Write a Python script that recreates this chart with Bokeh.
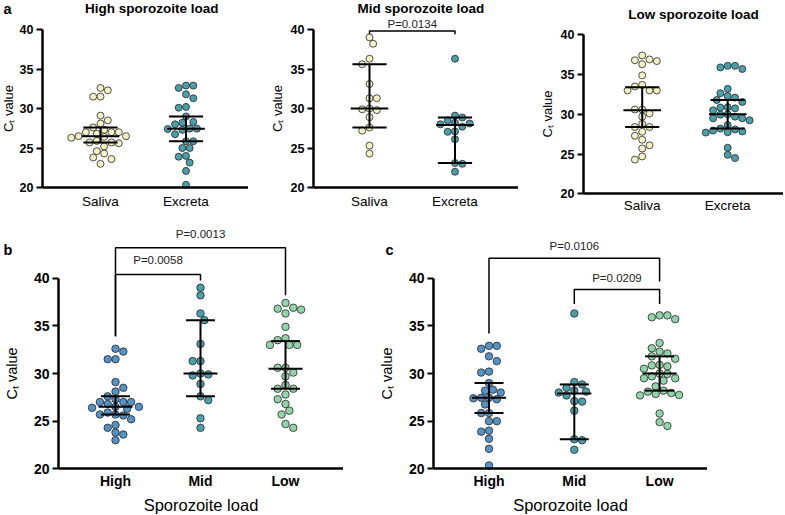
import numpy as np
from bokeh.plotting import figure
from bokeh.models import Range1d, FixedTicker, Label
from bokeh.layouts import column, row
from bokeh.embed import file_html
from bokeh.resources import INLINE

FONT = "Liberation Sans"

# ---------------- data ----------------
cats_a = ["Saliva", "Excreta"]
cats_bc = ["High", "Mid", "Low"]
titles_a = ["High sporozoite load", "Mid sporozoite load", "Low sporozoite load"]

saliva_high = [32.6, 32.3, 31.5, 31.5, 29.1, 28.5, 28.1, 27.6, 27.3, 27.0, 27.0, 27.0, 26.8, 26.5,
               26.5, 26.4, 26.3, 25.9, 25.7, 25.7, 25.6, 25.2, 24.6, 24.3, 23.8, 23.6, 23.0]
saliva_mid = [39.0, 38.2, 36.3, 35.6, 33.1, 31.3, 31.3, 30.0, 29.9, 29.8, 28.9, 27.6, 27.2, 25.3, 24.3]
saliva_low = [37.4, 36.9, 36.8, 36.7, 36.3, 34.9, 33.7, 33.5, 33.0, 33.0, 33.0, 30.6, 30.6, 30.1,
              29.7, 28.8, 28.4, 28.4, 27.8, 27.3, 26.8, 26.1, 25.7, 24.7, 24.3]
excreta_high = [32.9, 32.9, 32.6, 31.8, 31.3, 30.2, 30.1, 29.0, 28.3, 28.2, 28.0, 27.45, 27.45,
                27.4, 27.3, 26.75, 25.85, 25.85, 25.0, 25.0, 24.0, 23.9, 23.15, 22.1, 20.35]
excreta_mid = [36.3, 29.1, 28.85, 28.5, 28.2, 28.1, 28.0, 27.7, 27.1, 27.05, 26.1, 23.1, 23.0, 22.0]
excreta_low = [36.1, 36.1, 35.9, 35.7, 33.2, 32.65, 32.3, 32.1, 31.8, 31.55, 30.9, 30.85, 30.75,
               30.5, 30.0, 29.95, 29.7, 29.5, 29.5, 29.25, 28.65, 28.2, 28.1, 27.95, 27.85, 27.75,
               27.7, 25.8, 24.9, 24.5]

# median and interquartile range (q1, median, q3)
saliva_stats = [(25.7, 26.5, 27.6), (27.6, 30.0, 35.6), (28.4, 30.5, 33.4)]
excreta_stats = [(25.85, 27.45, 29.0), (23.1, 27.9, 28.85), (28.2, 30.0, 31.8)]

# brackets: (from category, to category, bar level, left leg end, right leg end, text, text level)
brackets_a_mid = [(1, 2, 39.8, 39.4, 39.4, "P=0.0134", 40.72)]
brackets_b = [(1, 3, 43.19, 33.9, 38.2, "P=0.0013", 44.66),
              (1, 2, 40.4, 33.9, 39.75, "P=0.0058", 41.9)]
brackets_c = [(1, 3, 42.1, 34.2, 39.65, "P=0.0106", 43.33),
              (2, 3, 38.81, 37.3, 37.3, "P=0.0209", 40.04)]

COL_SALIVA = "#f4f1c4"
COL_EXCRETA = "#4aa0aa"
COL_HIGH = "#5393c5"
COL_MID = "#4aa0aa"
COL_LOW = "#92d4aa"
EDGE = "#262626"


def swarm(vals, ppu_x, ppu_y, d):
    n = len(vals)
    order = sorted(range(n), key=lambda i: -vals[i])
    cands = [0.0]
    for k in range(1, 40):
        cands += [k * 0.5, -k * 0.5]
    placed = []
    offs = [0.0] * n
    flip = False
    for i in order:
        y = vals[i] * ppu_y
        x = 0.0
        cc = 0.0
        for c in cands:
            cc = -c if flip else c
            x = cc * d
            if all((x - xp) ** 2 + (y - yp) ** 2 >= (d * 0.97) ** 2 for xp, yp in placed):
                break
        if cc != 0:
            flip = not flip
        placed.append((x, y))
        offs[i] = x / ppu_x
    return offs


def panel(w, h, ax_px, cat1_px, ppu_x, axis_y_px, ppu_y, cats, cat_size, cat_bold, tick_size,
          ylab_size, ylab_standoff, xlabel=None, xlab_size="16px", cat_standoff=5,
          xlab_standoff=4):
    x0 = 1 - cat1_px / ppu_x
    x1 = x0 + w / ppu_x
    axis_x = x0 + ax_px / ppu_x
    y0 = 20 - (h - axis_y_px) / ppu_y
    y1 = 20 + axis_y_px / ppu_y
    p = figure(width=w, height=h, x_range=Range1d(x0, x1), y_range=Range1d(y0, y1),
               output_backend="svg", toolbar_location=None,
               min_border_left=0, min_border_right=0, min_border_top=0, min_border_bottom=0)
    p.outline_line_color = None
    p.xgrid.visible = False
    p.ygrid.visible = False
    p.background_fill_color = "white"
    p.border_fill_color = "white"
    xa = p.xaxis[0]
    ya = p.yaxis[0]
    xa.fixed_location = 20
    xa.ticker = FixedTicker(ticks=[i + 1 for i in range(len(cats))])
    xa.major_label_overrides = {i + 1: c for i, c in enumerate(cats)}
    xa.bounds = (axis_x, x1)
    xa.major_tick_line_color = None
    xa.minor_tick_line_color = None
    xa.major_tick_out = 0
    xa.major_tick_in = 0
    xa.axis_line_width = 2.5
    xa.axis_line_color = "black"
    xa.major_label_text_font = FONT
    xa.major_label_text_font_size = cat_size
    xa.major_label_text_font_style = "bold" if cat_bold else "normal"
    xa.major_label_text_color = "black"
    xa.major_label_standoff = cat_standoff
    if xlabel:
        xa.axis_label = xlabel
        xa.axis_label_text_font = FONT
        xa.axis_label_text_font_size = xlab_size
        xa.axis_label_text_font_style = "normal"
        xa.axis_label_text_color = "black"
        xa.axis_label_standoff = xlab_standoff
    ya.fixed_location = axis_x
    ya.ticker = FixedTicker(ticks=[20, 25, 30, 35, 40])
    ya.bounds = (20, 40)
    ya.axis_line_width = 2.5
    ya.axis_line_color = "black"
    ya.major_tick_line_width = 2
    ya.major_tick_line_color = "black"
    ya.major_tick_out = 6
    ya.major_tick_in = 0
    ya.minor_tick_line_color = None
    ya.major_label_text_font = FONT
    ya.major_label_text_font_style = "bold"
    ya.major_label_text_font_size = tick_size
    ya.major_label_text_color = "black"
    ya.major_label_standoff = 3
    ya.axis_label = "Cₜ value"
    ya.axis_label_text_font = FONT
    ya.axis_label_text_font_style = "normal"
    ya.axis_label_text_font_size = ylab_size
    ya.axis_label_text_color = "black"
    ya.axis_label_standoff = ylab_standoff
    return p, x0, y1


def draw_group(p, xc, vals, color, size, ppu_x, ppu_y, stats, half_med, half_cap):
    offs = swarm(vals, ppu_x, ppu_y, size + 0.3)
    p.scatter(x=[xc + o for o in offs], y=vals, size=size, fill_color=color,
              line_color=EDGE, line_width=0.8)
    lo, med, hi = stats
    p.segment(x0=[xc, xc - half_med, xc - half_cap, xc - half_cap],
              y0=[lo, med, lo, hi],
              x1=[xc, xc + half_med, xc + half_cap, xc + half_cap],
              y1=[hi, med, lo, hi], line_color="black", line_width=2)


def draw_brackets(p, brackets, size):
    for x1, x2, ytop, yl, yr, text, ytext in brackets:
        p.line(x=[x1, x1, x2, x2], y=[yl, ytop, ytop, yr], line_color="black", line_width=1.5)
        p.add_layout(Label(x=(x1 + x2) / 2, y=ytext, text=text, text_align="center",
                           text_baseline="middle", text_font=FONT, text_font_size=size,
                           text_color="#222222"))


def letter(p, x, y, t, baseline="middle"):
    p.add_layout(Label(x=x, y=y, text=t, text_align="left", text_baseline=baseline,
                       text_font=FONT, text_font_size="14.5px", text_font_style="bold",
                       text_color="black"))


# ---------------- top row (panel a) ----------------
PPU_X_A = 85.5
H1 = 218
top_specs = [
    # canvas width, axis px, first category px, x-axis px from top, px per y unit, ylabel standoff, label standoff
    (248, 42, 100, 187, 7.9, 1, 6),
    (270, 65, 121, 187, 7.9, 3, 6),
    (265, 65, 123.7, 193.3, 7.95, 3, 4),
]
sal_groups = [saliva_high, saliva_mid, saliva_low]
exc_groups = [excreta_high, excreta_mid, excreta_low]
top_figs = []
top_x0 = []
top_y1 = []
for k, (w, ax, c1, ay, ppy, ys, so) in enumerate(top_specs):
    p, x0, y1 = panel(w, H1, ax, c1, PPU_X_A, ay, ppy, cats_a, "13.5px", False, "12.5px",
                      "13px", ys, cat_standoff=so)
    draw_group(p, 1, sal_groups[k], COL_SALIVA, 7, PPU_X_A, ppy, saliva_stats[k], 0.22, 0.2)
    draw_group(p, 2, exc_groups[k], COL_EXCRETA, 7, PPU_X_A, ppy, excreta_stats[k], 0.22, 0.2)
    p.add_layout(Label(x=1.6, y=42.6, text=titles_a[k], text_align="center",
                       text_baseline="middle", text_font=FONT, text_font_size="13.5px",
                       text_font_style="bold", text_color="black"))
    if k == 1:
        draw_brackets(p, brackets_a_mid, "11.5px")
    top_figs.append(p)
    top_x0.append(x0)
    top_y1.append(y1)
letter(top_figs[0], top_x0[0] + 3 / PPU_X_A, top_y1[0] - 0.5 / 7.9, "a", baseline="top")

# ---------------- bottom row (panels b, c) ----------------
PPU_Y_B = 9.53
H2 = 297
AY_B = 250.3
pb, xb0, _ = panel(343, H2, 58, 115, 85.0, AY_B, PPU_Y_B, cats_bc, "14px", True, "14px",
                   "14.5px", 11, xlabel="Sporozoite load", xlab_size="16.5px",
                   cat_standoff=4, xlab_standoff=4)
for i, (vals, col) in enumerate(zip(sal_groups, [COL_HIGH, COL_MID, COL_LOW])):
    draw_group(pb, i + 1, vals, col, 7.5, 85.0, PPU_Y_B, saliva_stats[i], 0.2, 0.17)
draw_brackets(pb, brackets_b, "11.5px")
letter(pb, xb0 + 3 / 85.0, 43.0, "b")

pc, xc0, _ = panel(364, H2, 90, 145.5, 85.3, AY_B, PPU_Y_B, cats_bc, "14px", True, "14px",
                   "14.5px", 11, xlabel="Sporozoite load", xlab_size="16.5px",
                   cat_standoff=4, xlab_standoff=4)
for i, (vals, col) in enumerate(zip(exc_groups, [COL_HIGH, COL_MID, COL_LOW])):
    draw_group(pc, i + 1, vals, col, 7.5, 85.3, PPU_Y_B, excreta_stats[i], 0.2, 0.17)
draw_brackets(pc, brackets_c, "11.5px")
letter(pc, xc0 + 42 / 85.3, 43.0, "c")

layout = column(row(*top_figs), row(pb, pc))
open("out.html", "w").write(file_html(layout, INLINE))
